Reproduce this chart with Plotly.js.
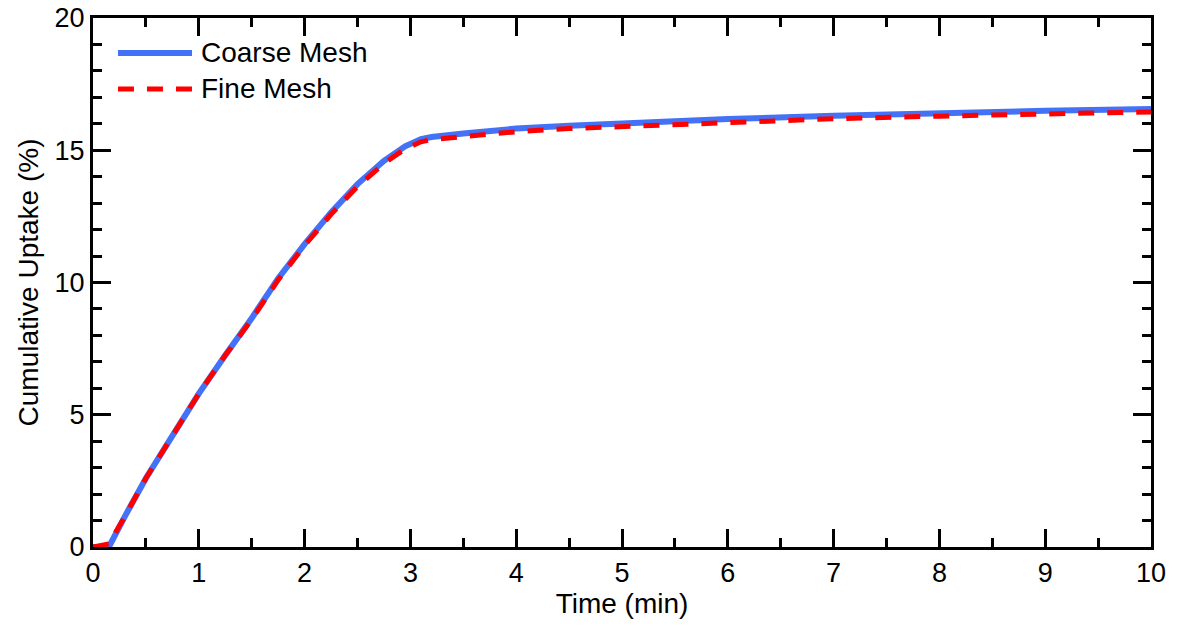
<!DOCTYPE html>
<html>
<head>
<meta charset="utf-8">
<script src="https://cdn.plot.ly/plotly-3.0.1.min.js"></script>
<style>html,body{margin:0;padding:0;background:#fff;}#chart{width:1183px;height:627px;}</style>
</head>
<body>
<div id="chart"></div>
<script>
// Data
const coarseTime = [0, 0.15, 0.3, 0.5, 0.75, 1.0, 1.25, 1.5, 1.75, 2.0, 2.25, 2.5, 2.75, 2.95, 3.1, 3.2, 3.5, 4.0, 4.5, 5.0, 6.0, 7.0, 8.0, 9.0, 10.0];
const coarseUptake = [0, 0, 1.15, 2.6, 4.2, 5.8, 7.25, 8.65, 10.15, 11.45, 12.65, 13.72, 14.6, 15.15, 15.42, 15.5, 15.63, 15.82, 15.93, 16.02, 16.18, 16.3, 16.41, 16.49, 16.56];
const fineTime = [0, 0.08, 0.15, 0.3, 0.5, 0.75, 1.0, 1.25, 1.5, 1.75, 2.0, 2.25, 2.5, 2.75, 2.95, 3.1, 3.2, 3.5, 4.0, 4.5, 5.0, 6.0, 7.0, 8.0, 9.0, 10.0];
const fineUptake = [0, 0.05, 0.12, 1.15, 2.6, 4.2, 5.8, 7.25, 8.6, 10.1, 11.4, 12.58, 13.63, 14.5, 15.05, 15.32, 15.4, 15.52, 15.7, 15.82, 15.9, 16.06, 16.19, 16.29, 16.38, 16.45];
const seriesNames = ["Coarse Mesh", "Fine Mesh"];
const xTickVals = [0,1,2,3,4,5,6,7,8,9,10];
const yTickVals = [0,5,10,15,20];

const font = "Liberation Sans, Arial, Helvetica, sans-serif";
const colors = ["#4472f7", "#ff0000"];
const widths = [6, 5];
const dashes = ["solid", "16px,13px"];

const traces = [
  {x: coarseTime, y: coarseUptake, name: seriesNames[0], mode: "lines", showlegend: false,
   line: {color: colors[0], width: widths[0]}},
  {x: fineTime, y: fineUptake, name: seriesNames[1], mode: "lines", showlegend: false,
   line: {color: colors[1], width: widths[1], dash: dashes[1]}}
];

const axisCommon = {
  showline: true, linecolor: "#000", linewidth: 3, mirror: "allticks",
  ticks: "inside", ticklen: 18, tickwidth: 3, tickcolor: "#000",
  showgrid: false, zeroline: false,
  tickfont: {family: font, size: 27, color: "#000"}
};

// Legend drawn in paper coordinates (longer line samples, like the reference)
const legendY = [0.934, 0.866];
const shapes = [], annotations = [];
seriesNames.forEach((n, i) => {
  shapes.push({type: "line", xref: "paper", yref: "paper", x0: 0.0236, x1: 0.0936, y0: legendY[i], y1: legendY[i],
    line: {color: colors[i], width: widths[i], dash: dashes[i]}});
  annotations.push({xref: "paper", yref: "paper", x: 0.1005, y: legendY[i], xanchor: "left", yanchor: "middle",
    text: n, showarrow: false, font: {family: font, size: 28, color: "#000"}});
});

const layout = {
  width: 1183, height: 627,
  paper_bgcolor: "#fff", plot_bgcolor: "#fff",
  margin: {l: 93, r: 32, t: 18, b: 80},
  font: {family: font, color: "#000"},
  xaxis: Object.assign({}, axisCommon, {
    range: [0, 10], tickvals: xTickVals,
    minor: {dtick: 0.5, ticks: "inside", ticklen: 9, tickwidth: 3, tickcolor: "#000", showgrid: false},
    title: {text: "Time (min)", font: {family: font, size: 28, color: "#000"}, standoff: 2}
  }),
  yaxis: Object.assign({}, axisCommon, {
    range: [0, 20], tickvals: yTickVals,
    minor: {dtick: 1, ticks: "inside", ticklen: 9, tickwidth: 3, tickcolor: "#000", showgrid: false},
    title: {text: "Cumulative Uptake (%)", font: {family: font, size: 28, color: "#000"}, standoff: 8}
  }),
  showlegend: false,
  shapes: shapes,
  annotations: annotations
};

Plotly.newPlot("chart", traces, layout, {displayModeBar: false, staticPlot: true});
</script>
</body>
</html>
